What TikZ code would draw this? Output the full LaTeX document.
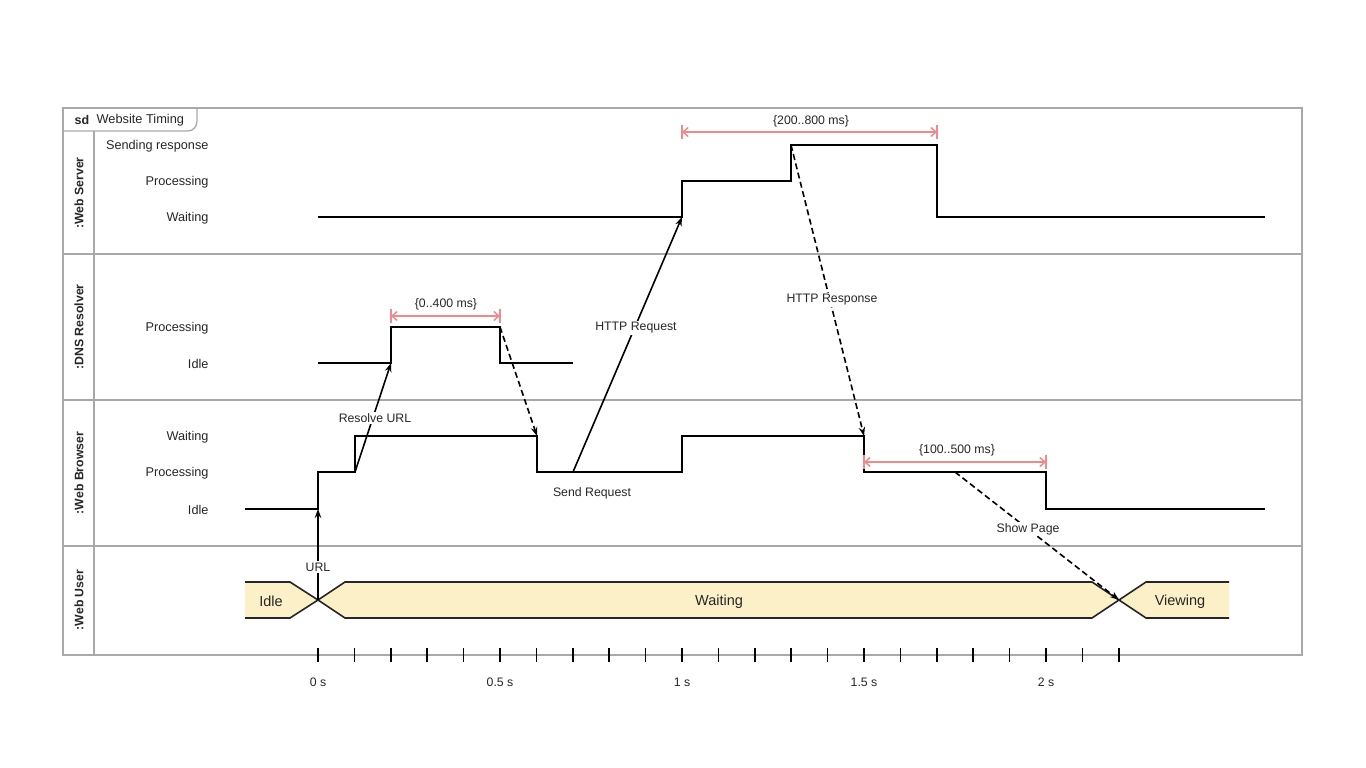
\documentclass[tikz,border=0pt]{standalone}
\usepackage{fontspec}
\setmainfont{Liberation Sans}
\usetikzlibrary{arrows.meta}

\definecolor{framegray}{HTML}{A9A9A9}
\definecolor{txtgray}{HTML}{262626}
\definecolor{limitred}{HTML}{F08A8A}
\definecolor{bandfill}{HTML}{FBF0C8}

\tikzset{
  frameline/.style={draw=framegray, line width=1.3pt},
  signal/.style={line width=1.6pt, line join=miter},
  msg/.style={-{Stealth[length=9pt,width=6.5pt]}, line width=1.6pt},
  dmsg/.style={msg, dash pattern=on 6pt off 3.5pt},
  limit/.style={draw=limitred, line width=1.5pt, {Straight Barb[length=5pt,width=9pt]}-{Straight Barb[length=5pt,width=9pt]}},
  limitbar/.style={draw=limitred, line width=1.5pt},
  statelbl/.style={anchor=east, text=txtgray, yshift=-1pt, font=\fontsize{12.7}{15}\selectfont},
  lanelbl/.style={rotate=90, text=txtgray, font=\fontsize{12.3}{15}\selectfont\bfseries},
  msglbl/.style={text=txtgray, yshift=-1pt, font=\fontsize{12.3}{15}\selectfont, inner sep=1.5pt},
  bandlbl/.style={text=txtgray, yshift=-1.5pt, font=\fontsize{14.5}{17}\selectfont},
  ticklbl/.style={text=txtgray, font=\fontsize{12.3}{15}\selectfont},
  band/.style={fill=bandfill},
  bandline/.style={line width=1.6pt, draw=black!85},
  tick/.style={line width=1.5pt}
}

\begin{document}
\begin{tikzpicture}[x=1pt, y=-1pt]
  \useasboundingbox (0,0) rectangle (1366,768);

  % frame and lanes
  \draw[frameline] (63,108) rectangle (1302,655);
  \draw[frameline] (63,131) -- (188,131) to[out=0,in=-90] (197,121) -- (197,108);
  \draw[frameline] (94,131) -- (94,655);
  \draw[frameline] (63,254) -- (1302,254);
  \draw[frameline] (63,400) -- (1302,400);
  \draw[frameline] (63,546) -- (1302,546);
  \node[text=txtgray, font=\fontsize{12.5}{15}\selectfont\bfseries] (sd) at (82,120) {sd};
  \node[text=txtgray, font=\fontsize{12.8}{15}\selectfont, anchor=west] (title) at (93,120) {Website Timing};

  \node[lanelbl] (server) at (79,193) {:Web Server};
  \node[lanelbl] (dns) at (79,327) {:DNS Resolver};
  \node[lanelbl] (browser) at (79,473) {:Web Browser};
  \node[lanelbl] (user) at (79,600) {:Web User};

  % state names
  \node[statelbl] (srvSend) at (212,145) {Sending response};
  \node[statelbl] (srvProc) at (212,181) {Processing};
  \node[statelbl] (srvWait) at (212,217) {Waiting};
  \node[statelbl] (dnsProc) at (212,327) {Processing};
  \node[statelbl] (dnsIdle) at (212,363) {Idle};
  \node[statelbl] (brwWait) at (212,436) {Waiting};
  \node[statelbl] (brwProc) at (212,472) {Processing};
  \node[statelbl] (brwIdle) at (212,509) {Idle};

  % signals
  \draw[signal] (318,217) -| (682,181) -| (791,145) -| (937,217) -- (1265,217);
  \draw[signal] (318,363) -| (391,327) -| (500,363) -- (573,363);
  \draw[signal] (245,509) -| (318,472) -| (355,436) -| (537,472) -| (682,436)
                -| (864,472) -| (1046,509) -- (1265,509);

  % web user
  \fill[band] (245,582) -- (290,582) -- (318,600) -- (290,618) -- (245,618) -- cycle;
  \draw[bandline] (245,582) -- (290,582) -- (318,600) -- (290,618) -- (245,618);
  \draw[bandline, band] (318,600) -- (345,582) -- (1092,582) -- (1119,600) -- (1092,618) -- (345,618) -- cycle;
  \fill[band] (1119,600) -- (1146,582) -- (1229,582) -- (1229,618) -- (1146,618) -- cycle;
  \draw[bandline] (1229,582) -- (1146,582) -- (1119,600) -- (1146,618) -- (1229,618);
  \node[bandlbl] (idle) at (271,600) {Idle};
  \node[bandlbl] (waiting) at (719,600) {Waiting};
  \node[bandlbl] (viewing) at (1180,600) {Viewing};

  % message ends
  \coordinate (urlA) at (318,600);
  \coordinate (urlB) at (318,509);
  \coordinate (resA) at (355,472);
  \coordinate (resB) at (391,363);
  \coordinate (retA) at (500,327);
  \coordinate (retB) at (537,436);
  \coordinate (reqA) at (573,472);
  \coordinate (reqB) at (682,217);
  \coordinate (rspA) at (791,145);
  \coordinate (rspB) at (864,436);
  \coordinate (shwA) at (955,472);
  \coordinate (shwB) at (1119,600);

  \draw[msg] (urlA) -- (urlB);
  \node[msglbl, fill=white] (urlLbl) at (318,566) {URL};
  \draw[msg] (resA) -- (resB);
  \node[msglbl, fill=white] (resLbl) at (375,417) {Resolve URL};
  \draw[dmsg] (retA) -- (retB);
  \draw[msg] (reqA) -- (reqB);
  \node[msglbl, fill=white] (reqLbl) at (636,327) {HTTP Request};
  \node[msglbl] (sendLbl) at (592,492) {Send Request};
  \draw[dmsg] (rspA) -- (rspB);
  \node[msglbl, fill=white] (rspLbl) at (832,299) {HTTP Response};
  \draw[dmsg] (shwA) -- (shwB);
  \node[msglbl, fill=white] (shwLbl) at (1028,528) {Show Page};

  % duration constraints
  \draw[limit] (391,316) -- (500,316);
  \draw[limitbar] (391,309) -- (391,323) (500,309) -- (500,323);
  \node[msglbl] (dnsLim) at (446,303) {\{0..400 ms\}};
  \draw[limit] (682,132) -- (937,132);
  \draw[limitbar] (682,125) -- (682,139) (937,125) -- (937,139);
  \node[msglbl] (srvLim) at (811,120) {\{200..800 ms\}};
  \draw[limit] (864,462) -- (1046,462);
  \draw[limitbar] (864,455) -- (864,469) (1046,455) -- (1046,469);
  \node[msglbl] (brwLim) at (957,449) {\{100..500 ms\}};

  % time axis
  \foreach \i in {0,...,22}
    \draw[tick] ({318+36.4*\i},648) -- ++(0,14);
  \foreach \i/\lab in {0/0 s, 5/0.5 s, 10/1 s, 15/1.5 s, 20/2 s}
    \node[ticklbl] (t\i) at ({318+36.4*\i},682) {\lab};
\end{tikzpicture}
\end{document}
